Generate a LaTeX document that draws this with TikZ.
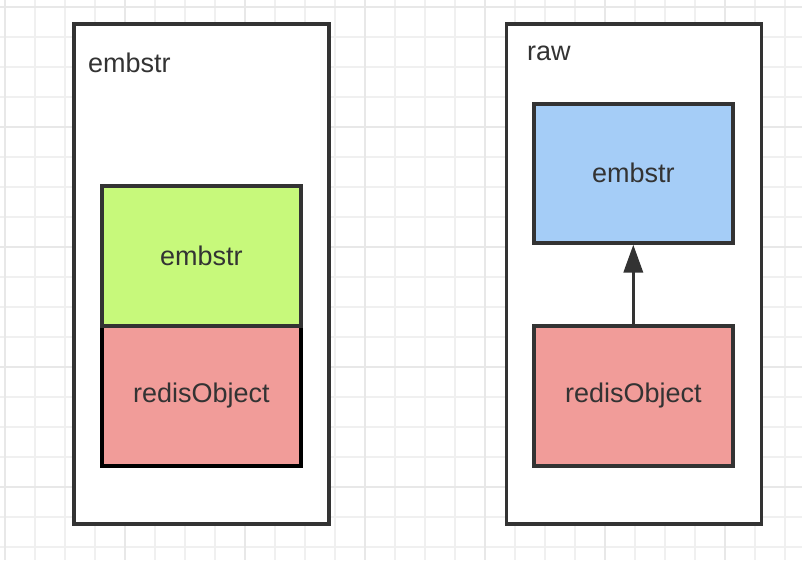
\documentclass[tikz,border=0pt]{standalone}
\usepackage{fontspec}
\setmainfont{Liberation Sans}
\usetikzlibrary{arrows.meta}
\definecolor{ink}{HTML}{333333}
\definecolor{gridminor}{HTML}{F0F0F0}
\definecolor{gridmajor}{HTML}{E8E8E8}
\definecolor{greenfill}{HTML}{C7F97B}
\definecolor{bluefill}{HTML}{A5CDF7}
\definecolor{redfill}{HTML}{F19C99}
\tikzset{
  minorline/.style={gridminor, line width=1.5pt},
  majorline/.style={gridmajor, line width=2pt},
  outerbox/.style={draw=ink, fill=white, line width=3.6pt, rectangle, inner sep=0pt, anchor=north west},
  innerbox/.style={draw=ink, line width=3.6pt, rectangle, inner sep=0pt, anchor=north west, text=ink,
    font=\fontsize{27}{32}\selectfont},
  label/.style={inner sep=0pt, anchor=base west, text=ink, font=\fontsize{27}{32}\selectfont},
  link/.style={draw=ink, line width=3.6pt, -{Triangle[length=28pt,width=19pt]}}
}
\begin{document}
\begin{tikzpicture}[x=1pt,y=-1pt]
\useasboundingbox (0,0) rectangle (802,560);
\fill[white] (0,0) rectangle (802,560);
\foreach \x in {5,35,...,800} \draw[minorline] (\x,0) -- (\x,560);
\foreach \y in {7,37,...,560} \draw[minorline] (0,\y) -- (802,\y);
\foreach \x in {5,125,...,800} \draw[majorline] (\x,0) -- (\x,560);
\foreach \y in {7,127,...,560} \draw[majorline] (0,\y) -- (802,\y);

% left container
\node[outerbox, minimum width=255pt, minimum height=500pt] (left) at (72,22) {};
\node[label] (leftlabel) at (88,72) {embstr};
\node[innerbox, fill=redfill, draw=black, minimum width=199pt, minimum height=140pt] (lred) at (100,324) {redisObject};
\node[innerbox, fill=greenfill, minimum width=199pt, minimum height=140pt] (lgreen) at (100,184) {embstr};

% right container
\node[outerbox, minimum width=255pt, minimum height=500pt] (right) at (504.5,22) {};
\node[label] (rightlabel) at (527,60) {raw};
\node[innerbox, fill=bluefill, minimum width=199pt, minimum height=139pt] (rblue) at (532,102) {embstr};
\node[innerbox, fill=redfill, minimum width=199pt, minimum height=140pt] (rred) at (532,324) {redisObject};
\draw[link] (rred.north) -- (rblue.south);
\end{tikzpicture}
\end{document}
